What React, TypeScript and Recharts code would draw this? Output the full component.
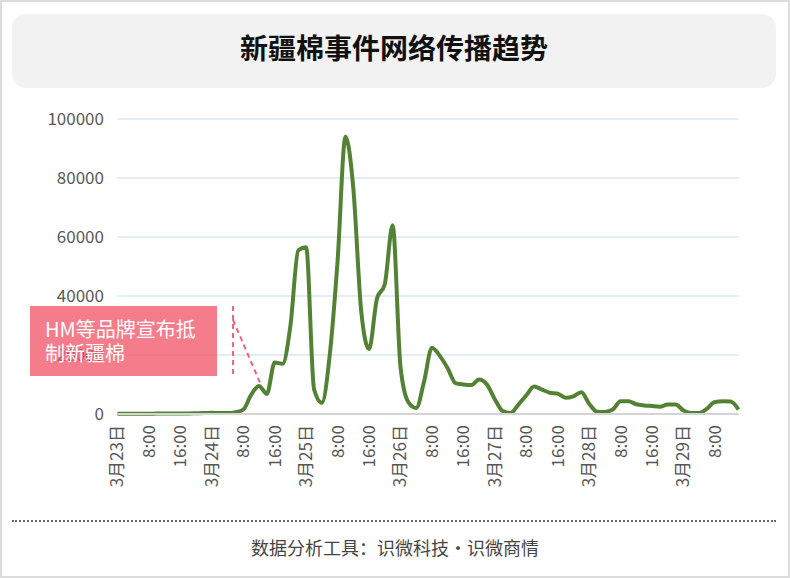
import { CartesianGrid, Line, LineChart, ReferenceLine, XAxis, YAxis } from "recharts";

const FONT = '"Noto Sans CJK SC", "Noto Sans", sans-serif';

// one reading every 2 hours, starting 3月23日 0:00
const spreadValues = [
  100, 100, 100, 100, 100, 150, 150, 150, 200, 200, 250, 300, 400, 300, 300, 600,
  1500, 6500, 9500, 6800, 17500, 17000, 30000, 55500, 56500, 8500, 3800, 20000, 52000, 94000,
  76500, 35000, 22000, 39000, 44000, 64000, 16000, 4000, 2000, 11000, 22500, 19700, 15500, 10500,
  10000, 9800, 11700, 10000, 5000, 1000, 300, 3200, 6300, 9300, 8300, 7200, 6900, 5500, 6000,
  7400, 3500, 800, 700, 1500, 4300, 4300, 3300, 2900, 2700, 2500, 3200, 3200, 1200, 300, 300,
  1800, 4100, 4300, 4200, 1500,
];

const xTickHours = [0, 8, 16, 24, 32, 40, 48, 56, 64, 72, 80, 88, 96, 104, 112, 120, 128, 136, 144, 152];
const xTickLabels = [
  "3月23日", "8:00", "16:00", "3月24日", "8:00", "16:00", "3月25日", "8:00", "16:00", "3月26日",
  "8:00", "16:00", "3月27日", "8:00", "16:00", "3月28日", "8:00", "16:00", "3月29日", "8:00",
];
const yTicks = [0, 20000, 40000, 60000, 80000, 100000];

// HM announcement marker (hour, value)
const markerStem = [
  { x: 29.4, y: 36600 },
  { x: 29.4, y: 12900 },
];
const markerPointer = [
  { x: 29.4, y: 31900 },
  { x: 36.3, y: 10500 },
];

const chartData = spreadValues.map((value, i) => ({ hour: i * 2, value }));

const XTick = ({ x, y, payload }: any) => {
  const idx = xTickHours.indexOf(payload.value);
  return (
    <text
      x={x}
      y={y}
      transform={`rotate(-90 ${x} ${y})`}
      textAnchor="end"
      dy="0.35em"
      fill="#555"
      fontSize={17}
      fontFamily={FONT}
    >
      {xTickLabels[idx]}
    </text>
  );
};

const App = () => {
  return (
    <div
      style={{
        position: "absolute",
        left: 0,
        top: 0,
        width: 790,
        height: 578,
        background: "#fff",
        fontFamily: FONT,
        overflow: "hidden",
      }}
    >
      <div
        style={{
          position: "absolute",
          left: 12,
          top: 14,
          width: 764,
          height: 74,
          background: "#f2f2f2",
          borderRadius: 14,
          textAlign: "center",
          lineHeight: "66px",
          fontSize: 28,
          fontWeight: 700,
          color: "#111",
        }}
      >
        新疆棉事件网络传播趋势
      </div>

      <div style={{ position: "absolute", left: 0, top: 100 }}>
        <LineChart
          width={790}
          height={400}
          data={chartData}
          margin={{ top: 19, right: 51.5, left: 57.5, bottom: 0 }}
        >
          <CartesianGrid vertical={false} stroke="#e4ecf6" strokeWidth={2} />
          <XAxis
            dataKey="hour"
            type="number"
            domain={[0, 158]}
            ticks={xTickHours}
            interval={0}
            tick={<XTick />}
            tickLine={false}
            tickMargin={5}
            height={86}
            axisLine={{ stroke: "#d4d4d4", strokeWidth: 2 }}
          />
          <YAxis
            width={60}
            domain={[0, 100000]}
            ticks={yTicks}
            interval={0}
            axisLine={false}
            tickLine={false}
            tickMargin={7.5}
            tick={{ fill: "#595959", fontSize: 17, fontFamily: FONT }}
          />
          <Line
            type="monotone"
            dataKey="value"
            stroke="#548235"
            strokeWidth={4}
            dot={false}
            activeDot={false}
            isAnimationActive={false}
          />
          <ReferenceLine
            segment={markerStem}
            stroke="#f0607a"
            strokeWidth={2}
            strokeDasharray="5 4"
          />
          <ReferenceLine
            segment={markerPointer}
            stroke="#f0607a"
            strokeWidth={2}
            strokeDasharray="5 4"
          />
        </LineChart>
      </div>

      <div
        style={{
          position: "absolute",
          left: 30,
          top: 306,
          width: 172,
          height: 59,
          padding: "11px 0 0 15px",
          background: "rgba(240, 80, 100, 0.75)",
          color: "#fff",
          fontSize: 20,
          lineHeight: "24px",
        }}
      >
        HM等品牌宣布抵
        <br />
        制新疆棉
      </div>

      <div
        style={{
          position: "absolute",
          left: 12,
          top: 520,
          width: 764,
          borderTop: "2px dotted #666",
        }}
      />
      <div
        style={{
          position: "absolute",
          left: 0,
          top: 535,
          width: 790,
          textAlign: "center",
          fontSize: 18,
          lineHeight: "24px",
          color: "#444",
        }}
      >
        数据分析工具：识微科技・识微商情
      </div>

      <div
        style={{
          position: "absolute",
          left: 0,
          top: 0,
          width: 790,
          height: 578,
          boxSizing: "border-box",
          border: "2px solid #dcdcdc",
          pointerEvents: "none",
        }}
      />
    </div>
  );
};

export default App;
